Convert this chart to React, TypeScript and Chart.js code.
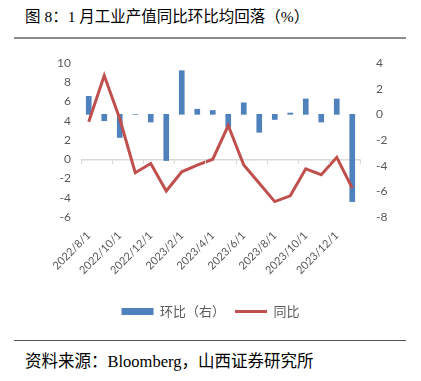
import React, { useEffect, useRef } from "react";
import { Chart, registerables } from "chart.js";

Chart.register(...registerables);

const categories = [
  "2022/8/1", "2022/9/1", "2022/10/1", "2022/11/1", "2022/12/1", "2023/1/1",
  "2023/2/1", "2023/3/1", "2023/4/1", "2023/5/1", "2023/6/1", "2023/7/1",
  "2023/8/1", "2023/9/1", "2023/10/1", "2023/11/1", "2023/12/1", "2024/1/1",
];
// 环比（右）
const momValues = [1.4, -0.5, -1.8, 0, -0.6, -3.6, 3.4, 0.4, 0.3, -1.0, 0.9, -1.4, -0.4, 0.1, 1.2, -0.6, 1.2, -6.8];
// 同比（左）
const yoyValues = [3.9, 8.7, 4.2, -1.4, -0.45, -3.3, -1.3, -0.6, 0, 3.5, -0.6, -2.5, -4.4, -3.8, -1.0, -1.6, 0.2, -3.0];

const leftTicks = { min: -6, max: 10, step: 2 };
const rightTicks = { min: -8, max: 4, step: 2 };

const GRAY = "#595959";

const zeroTicksPlugin = {
  id: "zeroTicks",
  afterDatasetsDraw(chart: any) {
    const x = chart.scales.x;
    const y = chart.scales.y;
    const ctx = chart.ctx;
    const zeroY = y.getPixelForValue(0);
    const stepPx = x.getPixelForValue(1) - x.getPixelForValue(0);
    ctx.save();
    ctx.strokeStyle = "#d9d9d9";
    ctx.lineWidth = 1;
    for (let i = 0; i <= categories.length; i += 2) {
      const px = Math.round(x.getPixelForValue(i) - stepPx / 2) + 0.5;
      ctx.beginPath();
      ctx.moveTo(px, zeroY);
      ctx.lineTo(px, zeroY + 5);
      ctx.stroke();
    }
    ctx.restore();
  },
};

export default function App() {
  const ref = useRef<HTMLCanvasElement>(null);

  useEffect(() => {
    if (!ref.current) return;
    const chart = new Chart(ref.current, {
      type: "bar",
      data: {
        labels: categories,
        datasets: [
          {
            type: "bar",
            label: "环比（右）",
            data: momValues,
            backgroundColor: "#4F81BD",
            borderWidth: 0,
            barThickness: 5,
            yAxisID: "y1",
            order: 1,
            pointStyle: "rect",
          } as any,
          {
            type: "line",
            label: "同比",
            data: yoyValues,
            borderColor: "#C0504D",
            backgroundColor: "#C0504D",
            borderWidth: 3,
            pointRadius: 0,
            tension: 0,
            yAxisID: "y",
            order: 0,
            pointStyle: "line",
          } as any,
        ],
      },
      options: {
        animation: false,
        responsive: false,
        devicePixelRatio: 1,
        layout: { padding: { top: 18, bottom: 2, left: 0, right: 0 } },
        plugins: {
          tooltip: { enabled: false },
          legend: {
            position: "bottom",
            labels: {
              usePointStyle: true,
              pointStyleWidth: 32,
              boxHeight: 7,
              padding: 10,
              color: GRAY,
              font: { family: "'Noto Sans CJK SC', sans-serif", size: 13 },
              sort: (a: any, b: any) => a.datasetIndex - b.datasetIndex,
            },
          },
        },
        scales: {
          x: {
            offset: true,
            grid: { display: false },
            border: { display: false },
            ticks: {
              autoSkip: false,
              maxRotation: 45,
              minRotation: 45,
              padding: 4,
              color: GRAY,
              font: { family: "Lato, sans-serif", size: 11 },
              callback: (_v: any, i: number) => (i % 2 === 0 ? categories[i] : ""),
            },
            afterFit: (s: any) => {
              s.height = 78;
            },
          },
          y: {
            position: "left",
            min: leftTicks.min,
            max: leftTicks.max,
            border: { display: false },
            grid: {
              drawTicks: false,
              lineWidth: 1.5,
              color: (c: any) => (c.tick && c.tick.value === 0 ? "#d9d9d9" : "rgba(0,0,0,0)"),
            },
            ticks: {
              stepSize: leftTicks.step,
              padding: 10,
              color: GRAY,
              font: { family: "Lato, sans-serif", size: 12 },
            },
            afterFit: (s: any) => {
              s.width = 81;
            },
          },
          y1: {
            position: "right",
            min: rightTicks.min,
            max: rightTicks.max,
            border: { display: false },
            grid: { display: false },
            ticks: {
              stepSize: rightTicks.step,
              padding: 8,
              color: GRAY,
              font: { family: "Lato, sans-serif", size: 12 },
            },
            afterFit: (s: any) => {
              s.width = 61;
            },
          },
        },
      },
      plugins: [zeroTicksPlugin],
    });
    return () => chart.destroy();
  }, []);

  const serif = "'Liberation Serif', 'Noto Sans CJK SC', serif";

  return (
    <div style={{ position: "absolute", left: 0, top: 0, width: 421, height: 381, background: "#fff", overflow: "hidden" }}>
      <div style={{ position: "absolute", left: 25, top: 6, fontFamily: serif, fontSize: 15.5, color: "#000", whiteSpace: "nowrap", lineHeight: "22px" }}>
        图 8：1 月工业产值同比环比均回落（%）
      </div>
      <div style={{ position: "absolute", left: 14, top: 37, width: 392, height: 2, background: "#8c8c8c" }} />
      <canvas ref={ref} width={421} height={285} style={{ position: "absolute", left: 0, top: 45, width: 421, height: 285 }} />
      <div style={{ position: "absolute", left: 14, top: 340, width: 392, height: 1, background: "#555" }} />
      <div style={{ position: "absolute", left: 25, top: 351, fontFamily: serif, fontSize: 16.5, color: "#000", whiteSpace: "nowrap", lineHeight: "22px" }}>
        资料来源：Bloomberg，山西证券研究所
      </div>
    </div>
  );
}
